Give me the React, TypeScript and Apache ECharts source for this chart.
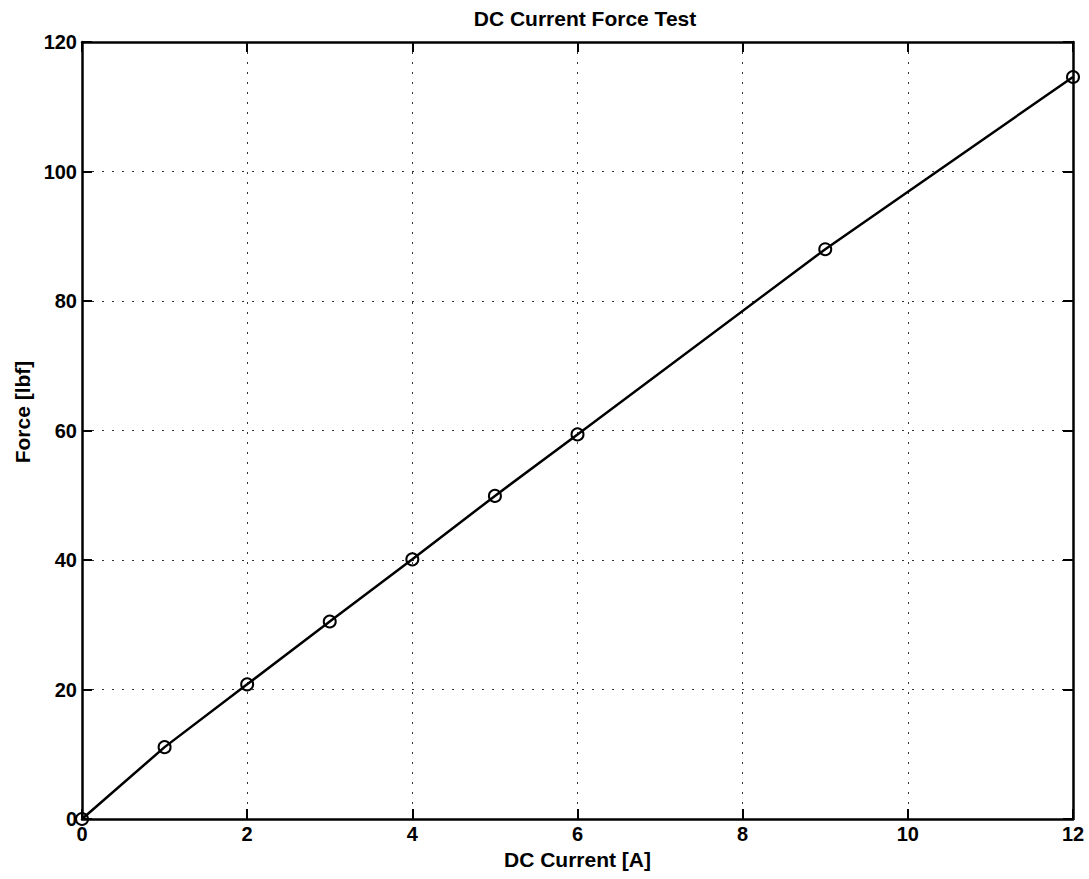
import React, { useEffect, useRef } from "react";
import * as echarts from "echarts";

const currentA = [0, 1, 2, 3, 4, 5, 6, 9, 12];
const forceLbf = [0, 11.1, 20.8, 30.5, 40.1, 49.9, 59.4, 88.0, 114.6];
const xTicks = [0, 2, 4, 6, 8, 10, 12];
const yTicks = [0, 20, 40, 60, 80, 100, 120];

export default function App() {
  const ref = useRef<HTMLDivElement>(null);
  useEffect(() => {
    if (!ref.current) return;
    const chart = echarts.init(ref.current, null, { renderer: "svg" });
    const font = "Liberation Sans, Arial, sans-serif";
    const tickStyle = { color: "#000", fontWeight: "bold" as const, fontSize: 20, fontFamily: font };
    const nameStyle = { color: "#000", fontWeight: "bold" as const, fontSize: 21, fontFamily: font };
    const axisLine = { show: true, onZero: false, lineStyle: { color: "#000", width: 2.5 } };
    const axisTick = { show: true, inside: true, length: 10, lineStyle: { color: "#000", width: 2 } };
    const splitLine = (show: boolean) => ({ show, lineStyle: { color: "#333", type: [2, 8], width: 1 } });
    const mkX = (pos: "bottom" | "top", show: boolean) => ({
      type: "value" as const,
      position: pos,
      min: xTicks[0],
      max: xTicks[xTicks.length - 1],
      interval: 2,
      name: show ? "DC Current [A]" : "",
      nameLocation: "middle" as const,
      nameGap: 29,
      nameTextStyle: nameStyle,
      axisLine,
      axisTick,
      axisLabel: { show, ...tickStyle, margin: 5 },
      splitLine: splitLine(show),
    });
    const mkY = (pos: "left" | "right", show: boolean) => ({
      type: "value" as const,
      position: pos,
      min: yTicks[0],
      max: yTicks[yTicks.length - 1],
      interval: 20,
      axisLine,
      axisTick,
      axisLabel: { show, ...tickStyle, margin: 5 },
      splitLine: splitLine(show),
    });
    chart.setOption({
      animation: false,
      backgroundColor: "#fff",
      title: {
        text: "DC Current Force Test",
        left: 580,
        textAlign: "center",
        top: 3,
        textStyle: nameStyle,
      },
      graphic: [
        {
          type: "text",
          x: 22,
          y: 412,
          rotation: Math.PI / 2,
          style: {
            text: "Force [lbf]",
            align: "center",
            verticalAlign: "middle",
            fill: "#000",
            font: "bold 21px Liberation Sans, Arial, sans-serif",
          },
        },
      ],
      grid: { left: 82, right: 16, top: 42, bottom: 60 },
      xAxis: [mkX("bottom", true), mkX("top", false)],
      yAxis: [mkY("left", true), mkY("right", false)],
      series: [
        {
          type: "line",
          data: currentA.map((x, i) => [x, forceLbf[i]]),
          symbol: "circle",
          symbolSize: 12,
          showSymbol: true,
          itemStyle: { color: "rgba(0,0,0,0)", borderColor: "#000", borderWidth: 2 },
          lineStyle: { color: "#000", width: 2.5 },
          clip: false,
          z: 5,
        },
      ],
    });
    return () => chart.dispose();
  }, []);
  return <div ref={ref} style={{ width: 1089, height: 879, position: "absolute", left: 0, top: 0 }} />;
}
